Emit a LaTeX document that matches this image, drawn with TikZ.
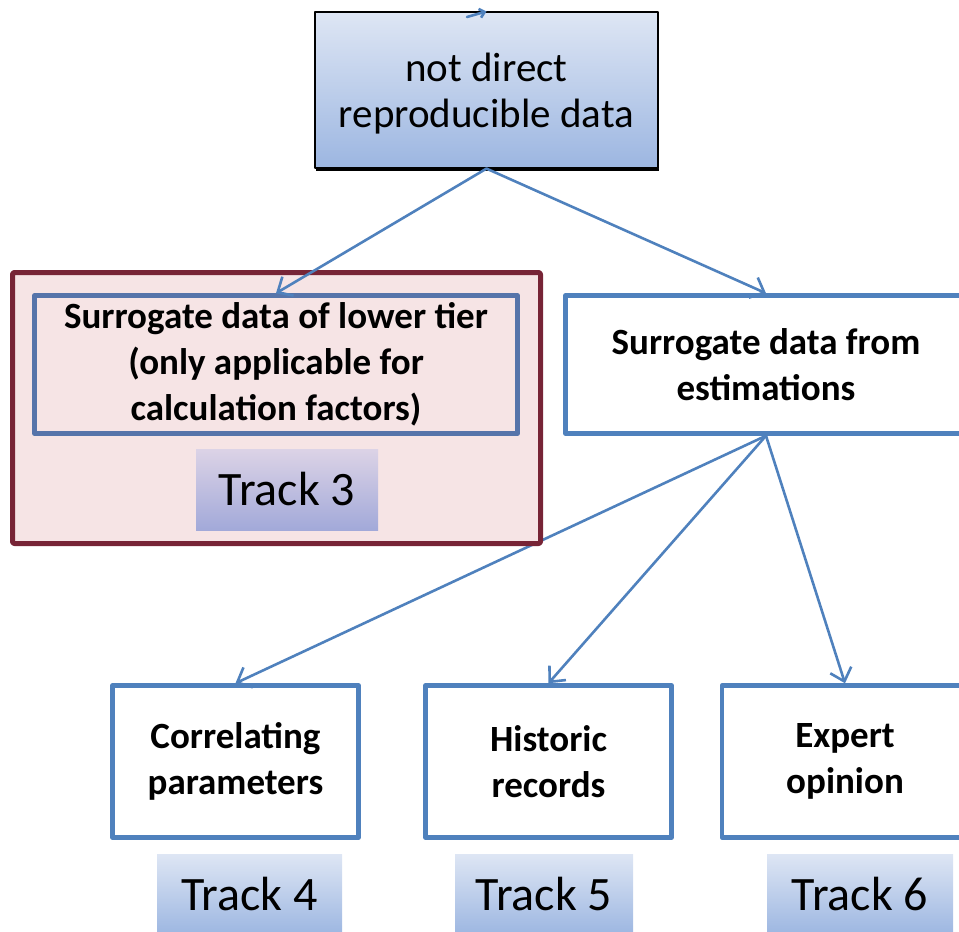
\documentclass[tikz,border=0pt]{standalone}
\usepackage{fontspec}
\setmainfont{Carlito}
\usepackage{xcolor}
\usetikzlibrary{arrows.meta,shadows}
\definecolor{linkblue}{HTML}{4F81BD}
\definecolor{boxblue}{HTML}{4F81BD}
\definecolor{slateblue}{HTML}{5674AA}
\definecolor{maroon}{HTML}{772436}
\definecolor{pinkfill}{HTML}{F6E4E5}
\definecolor{paleblue}{HTML}{DEE6F4}
\definecolor{midblue}{HTML}{9CB6E1}
\definecolor{palelilac}{HTML}{DCD3E6}
\definecolor{midlilac}{HTML}{A2A9D9}

\begin{document}
\begin{tikzpicture}[x=1pt, y=-1pt, line cap=round, line join=round,
  link/.style={draw=linkblue, line width=2.6pt, -{Straight Barb[length=12pt,width=22pt]}},
  estbox/.style={draw=boxblue, line width=4.5pt, fill=white, align=center,
    font=\fontsize{37}{46}\selectfont\bfseries, inner sep=0pt},
  tracklabel/.style={minimum height=81pt, inner sep=0pt, top color=paleblue,
    bottom color=midblue, font=\fontsize{48}{52}\selectfont}]
\useasboundingbox (0,0) rectangle (959,932);
\clip (0,0) rectangle (959,932);

% boxes of the lower part
\node[estbox, minimum width=401pt, minimum height=138pt] (est) at (766,364.5) {Surrogate data from\\estimations};
\node[estbox, minimum width=246pt, minimum height=152pt] (corr) at (235.5,761.5) {Correlating\\parameters};
\node[estbox, minimum width=246pt, minimum height=152pt] (hist) at (548.5,761.5) {Historic\\records};
\node[estbox, minimum width=246pt, minimum height=152pt] (expert) at (845,761.5) {Expert\\opinion};
\draw[link] (est.south) -- (corr.north);

% track 3 frame
\node[draw=maroon, line width=5pt, fill=pinkfill, rounded corners=2pt,
  minimum width=528pt, minimum height=271pt] (frame3) at (276.5,408) {};
\node[estbox, draw=slateblue, fill=none, minimum width=483pt, minimum height=138pt] (lower) at (276,364.5) {Surrogate data of lower tier\\(only applicable for\\calculation factors)};
\node[tracklabel, top color=palelilac, bottom color=midlilac, minimum width=182pt] (track3) at (287,489.5) {Track 3};

% top box
\node[draw=black, line width=1.2pt, top color=paleblue, bottom color=midblue,
  drop shadow={shadow xshift=0.5pt, shadow yshift=-2.5pt, opacity=1, fill=black},
  minimum width=343pt, minimum height=156pt, align=center, text depth=0pt,
  font=\fontsize{41}{46}\selectfont] (top) at (486.5,90) {not direct\\reproducible data};
\coordinate (stray) at (467,17);
\draw[link, -{Straight Barb[length=5pt,width=9pt]}] (stray) -- (top.north);

\draw[link] (top.south) -- (lower.north);
\draw[link] (top.south) -- (est.north);
\draw[link] (est.south) -- (hist.north);
\draw[link] (est.south) -- (expert.north);

\node[tracklabel, minimum width=185pt] (track4) at (249.5,894.5) {Track 4};
\node[tracklabel, minimum width=178pt] (track5) at (544,894.5) {Track 5};
\node[tracklabel, minimum width=186pt] (track6) at (860,894.5) {Track 6};
\end{tikzpicture}
\end{document}
